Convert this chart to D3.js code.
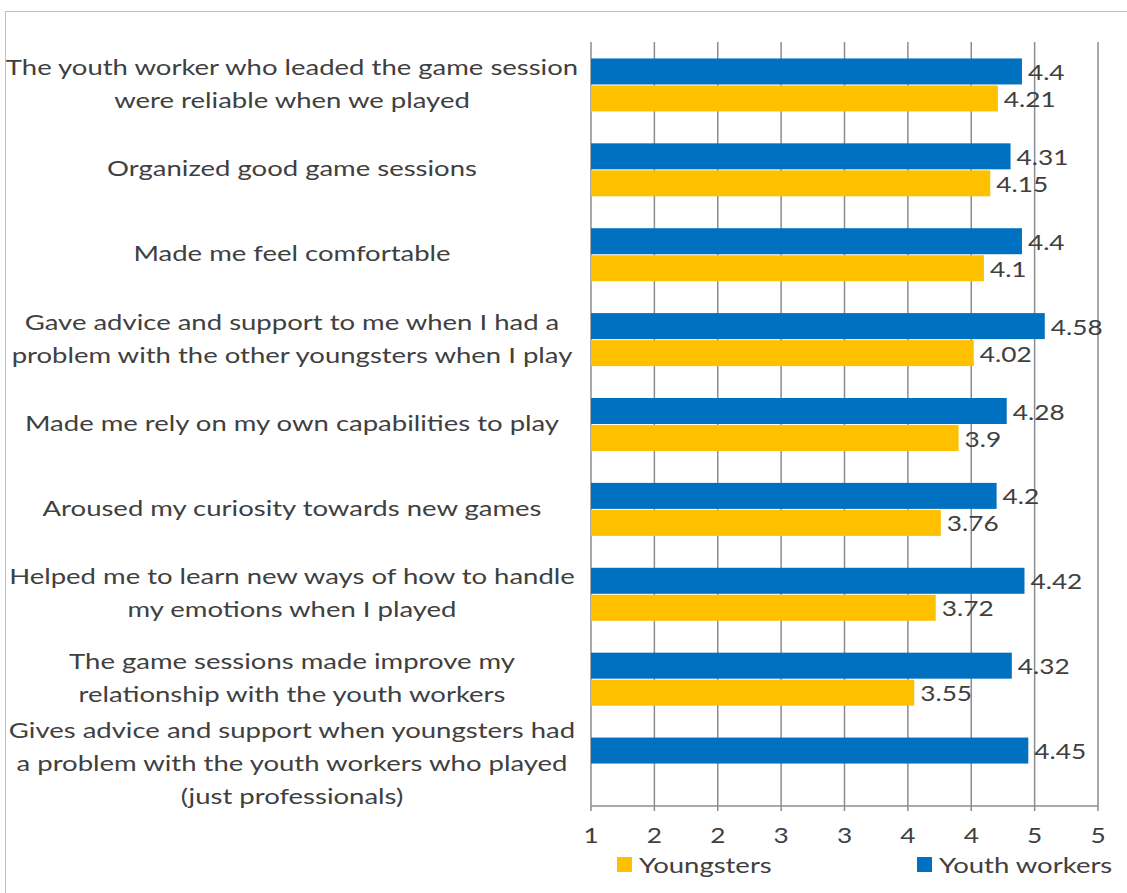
<!DOCTYPE html>
<html>
<head>
<meta charset="utf-8">
<script src="https://cdn.jsdelivr.net/npm/d3@7"></script>
<style>
  body { margin: 0; background: #fff; }
  svg text { font-family: Lato, "Open Sans", sans-serif; fill: #404040; }
</style>
</head>
<body>
<div class="container"></div>
<script>
const WIDTH = 1127,
      HEIGHT = 893,
      STRETCH = 1.25;   // the source picture is widened, text included

// category labels, split into lines as shown
var categories = [
  ['The youth worker who leaded the game session', 'were reliable when we played'],
  ['Organized good game sessions'],
  ['Made me feel comfortable'],
  ['Gave advice and support to me when I had a', 'problem with the other youngsters when I play'],
  ['Made me rely on my own capabilities to play'],
  ['Aroused my curiosity towards new games'],
  ['Helped me to learn new ways of how to handle', 'my emotions when I played'],
  ['The game sessions made improve my', 'relationship with the youth workers'],
  ['Gives advice and support when youngsters had', 'a problem with the youth workers who played', '(just professionals)']
];
var youthWorkers = [4.4, 4.31, 4.4, 4.58, 4.28, 4.2, 4.42, 4.32, 4.45];
var youngsters = [4.21, 4.15, 4.1, 4.02, 3.9, 3.76, 3.72, 3.55, null];
var seriesNames = ['Youth workers', 'Youngsters'];
var seriesColors = ['#0070C0', '#FFC000'];
var xTicks = [1, 1.5, 2, 2.5, 3, 3.5, 4, 4.5, 5];

var plot = {left: 591, right: 1098, top: 42, bottom: 806};

var svg = d3.select('.container').append('svg')
    .attr('width', WIDTH).attr('height', HEIGHT);

function place(sel, fx, fy) {
  sel.attr('transform', (d, i) => 'translate(' + fx(d, i) + ',' + fy(d, i) + ') scale(' + STRETCH + ',1)');
}

// chart frame
svg.append('rect')
    .attr('x', 5.5).attr('y', 11.5)
    .attr('width', WIDTH + 20).attr('height', HEIGHT + 20)
    .attr('fill', 'none').attr('stroke', '#bfbfbf');

var x = d3.scaleLinear().domain([1, 5]).range([plot.left, plot.right]);
var y = d3.scaleBand().domain(d3.range(categories.length)).range([plot.top, plot.bottom]);
var barH = 27;

// gridlines
svg.append('g').selectAll('line').data(xTicks).join('line')
    .attr('x1', d => x(d)).attr('x2', d => x(d))
    .attr('y1', plot.top).attr('y2', plot.bottom + 5)
    .attr('stroke', '#8c8c8c').attr('stroke-width', 1.5);
svg.append('line')
    .attr('x1', plot.left).attr('x2', plot.right)
    .attr('y1', plot.bottom).attr('y2', plot.bottom)
    .attr('stroke', '#8c8c8c').attr('stroke-width', 1.5);

// tick labels (Excel shows them rounded)
svg.append('g').selectAll('text').data(xTicks).join('text')
    .attr('text-anchor', 'middle').attr('font-size', 21)
    .call(place, d => x(d), () => 843)
    .text(d => d3.format('.0f')(Math.round(d + 0.001)));

var series = [youthWorkers, youngsters];
series.forEach(function(vals, s) {
  var rows = vals.map((v, i) => ({v: v, i: i})).filter(d => d.v != null);
  var g = svg.append('g');
  g.selectAll('rect').data(rows).join('rect')
      .attr('x', x(1))
      .attr('y', d => y(d.i) + y.bandwidth() / 2 - barH + s * barH + 1)
      .attr('width', d => x(d.v) - x(1))
      .attr('height', barH - 1)
      .attr('fill', seriesColors[s]);
  g.selectAll('text').data(rows).join('text')
      .attr('font-size', 21)
      .call(place, d => x(d.v) + 6, d => y(d.i) + y.bandwidth() / 2 - barH / 2 + s * barH + 9)
      .text(d => d.v);
});

// category labels
var lineH = 33;
var labelLines = [];
categories.forEach(function(lines, i) {
  var cy = y(i) + y.bandwidth() / 2 - (lines.length - 1) * lineH / 2 + 7;
  lines.forEach((t, k) => labelLines.push({t: t, y: cy + k * lineH}));
});
svg.append('g').selectAll('text').data(labelLines).join('text')
    .attr('text-anchor', 'middle')
    .attr('font-size', 22)
    .call(place, () => 292, d => d.y)
    .text(d => d.t);

// legend
var legend = [{name: seriesNames[1], color: seriesColors[1], x: 617},
              {name: seriesNames[0], color: seriesColors[0], x: 917}];
var lg = svg.append('g').selectAll('g').data(legend).join('g')
    .attr('transform', d => 'translate(' + d.x + ',857)');
lg.append('rect').attr('width', 15).attr('height', 15).attr('fill', d => d.color);
lg.append('text').attr('font-size', 22)
    .call(place, () => 22, () => 16)
    .text(d => d.name);
</script>
</body>
</html>
